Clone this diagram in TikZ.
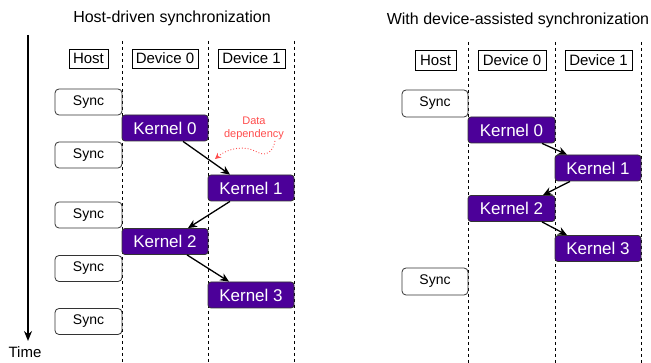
\documentclass[tikz,border=0pt]{standalone}
\usepackage{fontspec}
\setmainfont{Liberation Sans}
\usetikzlibrary{arrows.meta}
\definecolor{kfill}{HTML}{4C0099}
\definecolor{depred}{HTML}{FF4D4D}
\tikzset{
  lane/.style={draw=black, line width=0.9pt, dash pattern=on 3pt off 3pt},
  head/.style={draw=black, line width=0.8pt, minimum height=19pt, inner sep=0pt, font=\fontsize{15}{17}\selectfont},
  syncbox/.style={draw=black!80, line width=0.8pt, rounded corners=4pt, minimum width=67pt, minimum height=26pt, inner sep=0pt, font=\fontsize{14}{16}\selectfont},
  kernel/.style={draw=black!80, fill=kfill, text=white, line width=0.8pt, rounded corners=3pt, minimum width=86pt, minimum height=26pt, inner sep=0pt, font=\fontsize{17}{19}\selectfont},
  flow/.style={line width=1.3pt, -{Stealth[length=9pt,width=8pt]}},
  ttl/.style={font=\fontsize{16}{18}\selectfont},
}
\begin{document}
\begin{tikzpicture}[x=1pt,y=-1pt]
\useasboundingbox (0,0) rectangle (651,363);

% ---------- host-driven ----------
\node[ttl] (t1) at (172,18) {Host-driven synchronization};
\coordinate (ts) at (28,35);
\coordinate (te) at (28,341);
\draw[line width=1.5pt, -{Stealth[length=10pt,width=8pt]}] (ts) -- (te);
\node[font=\fontsize{15}{17}\selectfont] (time) at (25,352) {Time};

\foreach \x/\n in {122/a,208/b,294/c}{
  \coordinate (l\n top) at (\x,41);
  \coordinate (l\n bot) at (\x,363);
  \draw[lane] (l\n top) -- (l\n bot);
}

\node[head, minimum width=39pt] (h1) at (88.5,58.5) {Host};
\node[head, minimum width=66pt] (d01) at (165,58.5) {Device 0};
\node[head, minimum width=67pt] (d11) at (251.5,58.5) {Device 1};

\node[syncbox] (s1) at (88.5,102) {Sync};
\node[syncbox] (s2) at (88.5,155) {Sync};
\node[syncbox] (s3) at (88.5,215) {Sync};
\node[syncbox] (s4) at (88.5,268.5) {Sync};
\node[syncbox] (s5) at (88.5,321.5) {Sync};

\node[kernel] (k0) at (165,128) {Kernel 0};
\node[kernel] (k1) at (251,188) {Kernel 1};
\node[kernel] (k2) at (165,241.5) {Kernel 2};
\node[kernel] (k3) at (251,295) {Kernel 3};

\draw[flow] ([xshift=18pt]k0.south) -- ([xshift=-21pt]k1.north);
\draw[flow] ([xshift=-21pt]k1.south) -- ([xshift=23pt]k2.north);
\draw[flow] ([xshift=22pt]k2.south) -- ([xshift=-22pt]k3.north);

\node[text=depred, align=center, font=\fontsize{11}{13}\selectfont] (dep) at (254,128) {Data\\dependency};
\coordinate (depstart) at (275,141);
\coordinate (depend) at (215,159);
\draw[depred, line width=0.9pt, dotted, -{Stealth[length=6pt,width=6pt]}]
  (depstart) .. controls (273,152) and (266,157) .. (257,152)
  .. controls (245,145) and (228,148) .. (depend);

% ---------- device-assisted ----------
\node[ttl] (t2) at (518,20) {With device-assisted synchronization};

\foreach \x/\n in {468/d,555/e,641/f}{
  \coordinate (l\n top) at (\x,42);
  \coordinate (l\n bot) at (\x,363);
  \draw[lane] (l\n top) -- (l\n bot);
}

\node[head, minimum width=41pt, minimum height=20pt] (h2) at (435.5,60) {Host};
\node[head, minimum width=68pt, minimum height=20pt] (d02) at (512,60) {Device 0};
\node[head, minimum width=67pt, minimum height=20pt] (d12) at (598.5,60) {Device 1};

\node[syncbox, minimum width=66pt, minimum height=27pt] (r1) at (435,103.5) {Sync};
\node[syncbox, minimum width=66pt, minimum height=27pt] (r2) at (435,281.5) {Sync};

\node[kernel, minimum width=87pt] (m0) at (511.5,130) {Kernel 0};
\node[kernel] (m1) at (598,168) {Kernel 1};
\node[kernel, minimum width=87pt] (m2) at (511.5,208.5) {Kernel 2};
\node[kernel] (m3) at (598,248.5) {Kernel 3};

\draw[flow] ([xshift=30.5pt]m0.south) -- ([xshift=-31pt]m1.north);
\draw[flow] ([xshift=-28pt]m1.south) -- ([xshift=31.5pt]m2.north);
\draw[flow] ([xshift=30.5pt]m2.south) -- ([xshift=-31pt]m3.north);
\end{tikzpicture}
\end{document}
